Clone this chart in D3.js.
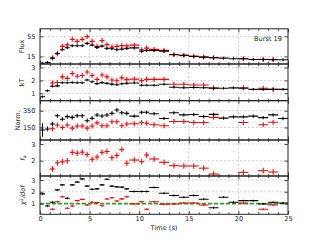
<!DOCTYPE html>
<html>
<head>
<meta charset="utf-8">
<script src="https://cdn.jsdelivr.net/npm/d3@7"></script>
<style>
  body { margin: 0; background: #fff; }
  text { font-family: "DejaVu Sans", sans-serif; }
</style>
</head>
<body>
<div id="chart"></div>
<script>
// time bins (centre, half width)
const blackT = [0.25,0.75,1.25,1.75,2.25,2.75,3.25,3.75,4.25,4.75,5.25,5.75,6.25,6.75,7.25,7.75,8.25,8.75,
  9.5,10.25,10.75,11.5,12.5,13.5,14.5,15.5,16.5,17.5,18.5,19.5,20.5,21.5,22.5,23.5,24.5];
const blackW = [0.25,0.25,0.25,0.25,0.25,0.25,0.25,0.25,0.25,0.25,0.25,0.25,0.25,0.25,0.25,0.25,0.25,0.25,
  0.5,0.25,0.25,0.5,0.5,0.5,0.5,0.5,0.5,0.5,0.5,0.5,0.5,0.5,0.5,0.5,0.5];
const redT = [1.25,1.75,2.25,2.75,3.25,3.75,4.25,4.75,5.25,5.75,6.25,6.75,7.25,7.75,8.25,8.75,
  9.5,10.25,10.75,11.5,12.5,13.5,14.5,15.5,16.5,17.5,20.5,22.5,23.5];
const redW = [0.25,0.25,0.25,0.25,0.25,0.25,0.25,0.25,0.25,0.25,0.25,0.25,0.25,0.25,0.25,0.25,
  0.5,0.25,0.25,0.5,0.5,0.5,0.5,0.5,0.5,0.5,0.5,0.5,0.5];

// blackbody only (black)
const fluxBlack = [1.6,3,11.6,20.5,28.4,32.4,36.4,36.4,36.4,41,37.6,33,35.6,31,30.4,28.4,29.6,31,
  32,25.6,27,27,25.6,18.4,17,15,13.6,12.4,11.6,10.4,10.4,9,9,8.4,8.4];
const ktBlack = [0.74,1.2,1.55,1.58,1.82,1.82,1.84,1.82,1.82,2.03,1.9,1.75,1.83,1.77,1.71,1.66,1.74,1.77,
  1.8,1.62,1.62,1.62,1.7,1.47,1.43,1.45,1.43,1.39,1.39,1.42,1.39,1.31,1.31,1.31,1.31];
const normBlack = [120,132,192,290,248,279,271,290,290,231,260,299,287,299,319,358,326,319,
  285,331,331,314,258,325,300,305,281,306,262,277,277,285,267,300,257];
const normBlackErr = [80,28,25,25,25,25,25,25,25,25,25,25,25,25,25,25,25,25,
  20,20,20,20,20,20,20,20,20,20,20,20,20,20,20,20,20];
const chiBlack = [1.82,0.79,1.11,2.16,2.59,1.45,2.59,2.82,3.1,2.48,2.22,2.25,2.59,3.07,2.48,2.42,2.4,2.25,
  2.02,2.02,2.02,2.36,1.88,1.68,1.54,1.68,1.37,0.65,1.54,1.11,1.25,1.25,0.97,1.11,1.05];

// with f_a (red)
const fluxRed = [12,21.5,35,38,49,45,49,54.5,45,35,46.5,38.5,33.6,35,36.5,36,
  37.5,28.4,31.6,29,27,19,17.6,15.6,14,12.6,10.6,9.2,8.8];
const ktRed = [1.8,1.84,2.27,2.16,2.53,2.32,2.38,2.65,2.38,2.08,2.42,2.27,2.03,1.97,2.2,2.06,
  2.1,1.98,2.08,2.08,2.08,1.7,1.7,1.64,1.64,1.42,1.43,1.39,1.31];
const normRed = [135,180,150,180,142,168,168,142,168,205,171,171,219,219,171,192,
  195,210,200,182,171,222,222,210,210,271,210,182,213];
const faRed = [1.5,1.87,1.93,1.99,2.5,2.45,2.51,2.37,2.08,2.22,2.5,2.55,2.18,2.32,2.67,1.85,
  2.04,1.94,2.34,2.1,1.9,1.7,1.68,1.68,1.55,1.2,1.3,1.4,1.32];
const chiRed = [0.52,1.16,1.58,0.6,0.8,1.25,1.36,0.88,1.11,1.08,0.82,1.39,1.5,1.22,1.4,1.58,
  0.97,1.16,0.52,1.16,0.94,0.97,1.05,1.05,0.88,3.4,1.05,0.52,0.88];

const xTicks = [0, 5, 10, 15, 20, 25];
const xMinor = [1,2,3,4,6,7,8,9,11,12,13,14,16,17,18,19,21,22,23,24];

const panels = [
  {label: 'Flux', top: 28.8, bottom: 64, domain: [0, 70], ticks: [15, 55], labelX: 22,
   black: fluxBlack, red: fluxRed, errB: 3, errR: 5},
  {label: 'kT', top: 64, bottom: 100.7, domain: [0.43, 3.27], ticks: [1, 2, 3], labelX: 22,
   black: ktBlack, red: ktRed, errB: 0.1, errR: 0.2},
  {label: 'Norm.', top: 100.7, bottom: 140, domain: [0, 470], ticks: [150, 350], labelX: 18,
   black: normBlack, red: normRed, errB: normBlackErr, errR: 30},
  {label: 'fa', top: 140, bottom: 176, domain: [1.08, 3.24], ticks: [2, 3], labelX: 22.5,
   black: null, red: faRed, errB: 0, errR: 0.17},
  {label: 'chi', top: 176, bottom: 214.3, domain: [0.09, 3.34], ticks: [1, 2, 3], labelX: 22.5,
   black: chiBlack, red: chiRed, errB: 0.08, errR: 0.08, ref: 1}
];

const x = d3.scaleLinear().domain([0, 25]).range([40, 288]);

const svg = d3.select('#chart')
  .append('svg')
  .attr('width', 320)
  .attr('height', 240);

function drawSeries(g, y, ts, ws, vals, err, color) {
  const pts = vals.map((v, i) => ({t: ts[i], w: ws[i], v: v, e: Array.isArray(err) ? err[i] : err}));
  g.selectAll(null).data(pts).enter().append('line')
    .attr('x1', d => x(d.t - d.w)).attr('x2', d => x(d.t + d.w))
    .attr('y1', d => y(d.v)).attr('y2', d => y(d.v))
    .attr('stroke', color).attr('stroke-width', 1.1);
  g.selectAll(null).data(pts).enter().append('line')
    .attr('x1', d => x(d.t)).attr('x2', d => x(d.t))
    .attr('y1', d => y(d.v - d.e)).attr('y2', d => y(d.v + d.e))
    .attr('stroke', color).attr('stroke-width', 1.1);
}

panels.forEach((p, i) => {
  const y = d3.scaleLinear().domain(p.domain).range([p.bottom, p.top]);
  const g = svg.append('g');

  // grid
  g.selectAll(null).data(xTicks.slice(1, -1)).enter().append('line')
    .attr('x1', d => x(d)).attr('x2', d => x(d))
    .attr('y1', p.top).attr('y2', p.bottom)
    .attr('stroke', '#c8c8c8').attr('stroke-width', 0.8).attr('stroke-dasharray', '2,2');
  g.selectAll(null).data(p.ticks).enter().append('line')
    .attr('x1', 40).attr('x2', 288)
    .attr('y1', d => y(d)).attr('y2', d => y(d))
    .attr('stroke', '#c8c8c8').attr('stroke-width', 0.8).attr('stroke-dasharray', '2,2');

  svg.append('clipPath').attr('id', 'clip' + i)
    .append('rect').attr('x', 40).attr('y', p.top).attr('width', 248).attr('height', p.bottom - p.top);
  const marks = g.append('g').attr('clip-path', `url(#clip${i})`);

  if (p.ref !== undefined) {
    marks.append('line')
      .attr('x1', 40).attr('x2', 288)
      .attr('y1', y(p.ref)).attr('y2', y(p.ref))
      .attr('stroke', '#2ca02c').attr('stroke-width', 1.6).attr('stroke-dasharray', '4,2');
  }
  if (p.red) drawSeries(marks, y, redT, redW, p.red, p.errR, '#ff0000');
  if (p.black) drawSeries(marks, y, blackT, blackW, p.black, p.errB, '#000');

  // axes, ticks pointing inward
  const last = i === panels.length - 1;
  g.append('g').attr('transform', `translate(0,${p.bottom})`)
    .call(d3.axisBottom(x).tickValues(xTicks).tickSize(-3.5).tickPadding(2)
      .tickFormat(last ? d3.format('d') : ''));
  g.append('g').attr('transform', `translate(0,${p.bottom})`)
    .call(d3.axisBottom(x).tickValues(xMinor).tickSize(-2).tickFormat(''));
  g.append('g').attr('transform', `translate(0,${p.top})`)
    .call(d3.axisTop(x).tickValues(xTicks).tickSize(-3.5).tickFormat(''));
  g.append('g').attr('transform', `translate(0,${p.top})`)
    .call(d3.axisTop(x).tickValues(xMinor).tickSize(-2).tickFormat(''));
  g.append('g').attr('transform', 'translate(40,0)')
    .call(d3.axisLeft(y).tickValues(p.ticks).tickSize(-3.5).tickPadding(4.5).tickFormat(d3.format('d')));
  g.append('g').attr('transform', 'translate(288,0)')
    .call(d3.axisRight(y).tickValues(p.ticks).tickSize(-3.5).tickFormat(''));

  g.selectAll('.domain').remove();
  g.selectAll('.tick line').attr('stroke', '#222').attr('stroke-width', 0.8);
  g.selectAll('.tick text').attr('font-size', 6.6).attr('fill', '#222')
    .attr('font-family', '"DejaVu Sans", sans-serif');

  g.append('rect')
    .attr('x', 40).attr('y', p.top).attr('width', 248).attr('height', p.bottom - p.top)
    .attr('fill', 'none').attr('stroke', '#222').attr('stroke-width', 1);

  // y label
  const lab = g.append('text')
    .attr('transform', `translate(${p.labelX},${(p.top + p.bottom) / 2}) rotate(-90)`)
    .attr('text-anchor', 'middle').attr('dy', '0.35em')
    .attr('font-size', 6.6).attr('fill', '#222');
  if (p.label === 'fa') {
    lab.append('tspan').attr('font-style', 'italic').text('f');
    lab.append('tspan').attr('font-style', 'italic').attr('font-size', 4.8).attr('dy', '0.25em').text('a');
  } else if (p.label === 'chi') {
    lab.append('tspan').attr('font-style', 'italic').text('χ');
    lab.append('tspan').attr('font-size', 4.6).attr('dy', '-0.45em').text('2');
    lab.append('tspan').attr('dy', '0.3em').attr('font-style', 'italic').text('/dof');
  } else {
    lab.text(p.label);
  }
});

svg.append('text')
  .attr('x', 282).attr('y', 40.5)
  .attr('text-anchor', 'end')
  .attr('font-size', 6.6).attr('fill', '#222')
  .text('Burst 19');

svg.append('text')
  .attr('x', x(12.5)).attr('y', 229.5)
  .attr('text-anchor', 'middle')
  .attr('font-size', 6.6).attr('fill', '#222')
  .text('Time (s)');
</script>
</body>
</html>
